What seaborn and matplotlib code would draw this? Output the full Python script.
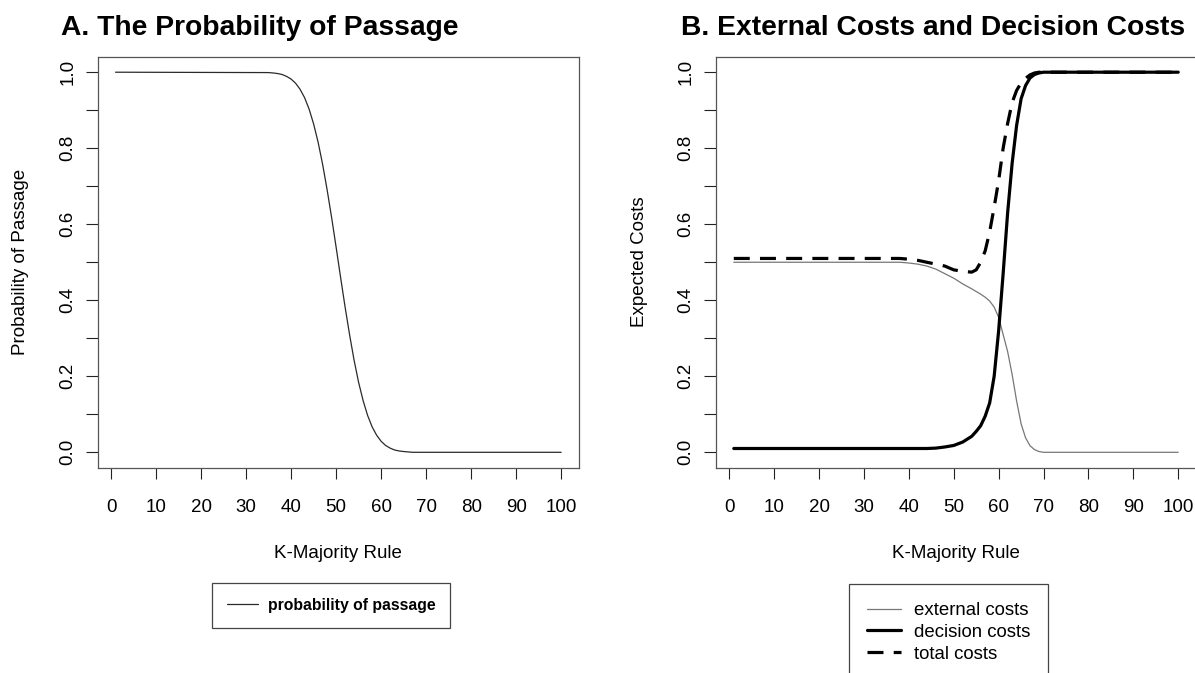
import numpy as np
import pandas as pd
import matplotlib
matplotlib.use("Agg")
import matplotlib.pyplot as plt
import seaborn as sns

# --- data ---
# panel A: probability of passage against the k-majority rule
k_pass = [1, 35, 36, 37, 38, 39, 40, 41, 42, 43, 44, 45, 46, 47, 48, 49, 50,
          51, 52, 53, 54, 55, 56, 57, 58, 59, 60, 61, 62, 63, 64, 65, 66, 67, 100]
p_pass = [1.0, 0.999, 0.998, 0.9965, 0.994, 0.989, 0.982, 0.971, 0.955, 0.933,
          0.903, 0.864, 0.816, 0.758, 0.691, 0.618, 0.540, 0.460, 0.382, 0.309,
          0.242, 0.184, 0.136, 0.097, 0.067, 0.045, 0.029, 0.018, 0.011, 0.006,
          0.0035, 0.002, 0.001, 0.0, 0.0]

# panel B: expected costs
k_cost = [1, 38, 40, 42, 44, 46, 48, 50, 52, 54, 55, 56, 57, 58, 59, 60,
          61, 62, 63, 64, 65, 66, 67, 68, 69, 70, 100]
external_costs = [0.50, 0.50, 0.498, 0.495, 0.49, 0.482, 0.47, 0.458, 0.443,
                  0.43, 0.423, 0.416, 0.408, 0.398, 0.382, 0.355, 0.31, 0.265,
                  0.205, 0.135, 0.075, 0.038, 0.017, 0.007, 0.002, 0.0, 0.0]
decision_costs = [0.01, 0.01, 0.01, 0.01, 0.01, 0.011, 0.014, 0.018, 0.027,
                  0.042, 0.055, 0.07, 0.095, 0.13, 0.20, 0.32, 0.47, 0.63,
                  0.76, 0.86, 0.93, 0.965, 0.985, 0.994, 0.998, 1.0, 1.0]
total_costs = [0.51, 0.51, 0.508, 0.505, 0.50, 0.495, 0.49, 0.48, 0.476,
               0.474, 0.48, 0.50, 0.53, 0.58, 0.645, 0.715, 0.80, 0.865,
               0.92, 0.952, 0.972, 0.984, 0.993, 0.998, 1.0, 1.0, 1.0]

x_ticks = [0, 10, 20, 30, 40, 50, 60, 70, 80, 90, 100]
x_ticklabels = ["0", "10", "20", "30", "40", "50", "60", "70", "80", "90", "100"]
y_ticks = [0.0, 0.1, 0.2, 0.3, 0.4, 0.5, 0.6, 0.7, 0.8, 0.9, 1.0]
y_ticklabels = ["0.0", "", "0.2", "", "0.4", "", "0.6", "", "0.8", "", "1.0"]

W, H = 1195, 673


def px(x):
    return x / W


def py(y):
    return 1 - y / H


def style_axes(ax):
    ax.set_xlim(-2.96, 103.96)
    ax.set_ylim(-0.04, 1.04)
    ax.set_xticks(x_ticks)
    ax.set_xticklabels(x_ticklabels)
    ax.set_yticks(y_ticks)
    ax.set_yticklabels(y_ticklabels, rotation=90, va="center")
    ax.tick_params(axis="x", length=8, width=0.8, color="#222222", pad=15,
                   labelsize=13.5, labelcolor="black", direction="out",
                   bottom=True)
    ax.tick_params(axis="y", length=8.5, width=0.8, color="#222222", pad=7,
                   labelsize=13.5, labelcolor="black", direction="out",
                   left=True)
    for sp in ax.spines.values():
        sp.set_visible(True)
        sp.set_color("#555555")
        sp.set_linewidth(0.9)
    ax.set_xlabel("")
    ax.set_ylabel("")
    if ax.get_legend() is not None:
        ax.get_legend().remove()


def main():
    sns.set_style("white")
    plt.rcParams["font.family"] = ["Liberation Sans", "DejaVu Sans"]
    plt.rcParams["text.color"] = "black"
    plt.rcParams["axes.labelcolor"] = "black"

    fig = plt.figure(figsize=(W / 100, H / 100), dpi=100)
    ax_top, ax_bot = 57, 467.5
    ax1 = fig.add_axes([px(97.7), py(ax_bot), px(579 - 97.7), (ax_bot - ax_top) / H])
    ax2 = fig.add_axes([px(716), py(ax_bot), px(480), (ax_bot - ax_top) / H])

    # A. probability of passage
    df_a = pd.DataFrame({"k": k_pass, "p": p_pass})
    sns.lineplot(data=df_a, x="k", y="p", ax=ax1, color="#2a2a2a", lw=0.9,
                 label="probability of passage")
    style_axes(ax1)

    # B. costs
    df_b = pd.DataFrame({"k": k_cost, "ext": external_costs,
                         "dec": decision_costs, "tot": total_costs})
    sns.lineplot(data=df_b, x="k", y="ext", ax=ax2, color="#777777", lw=0.9,
                 label="external costs")
    sns.lineplot(data=df_b, x="k", y="dec", ax=ax2, color="black", lw=2.3,
                 label="decision costs")
    sns.lineplot(data=df_b, x="k", y="tot", ax=ax2, color="black", lw=2.3,
                 ls=(0, (5, 3.2)), label="total costs")
    style_axes(ax2)

    # titles and axis labels
    fig.text(px(61), py(35), "A. The Probability of Passage", fontsize=20.3,
             fontweight="bold", ha="left", va="baseline")
    fig.text(px(681), py(35), "B. External Costs and Decision Costs",
             fontsize=20.3, fontweight="bold", ha="left", va="baseline")
    fig.text(px(338), py(553), "K-Majority Rule", fontsize=13.5,
             ha="center", va="center")
    fig.text(px(956), py(553), "K-Majority Rule", fontsize=13.5,
             ha="center", va="center")
    fig.text(px(21), py(262), "Probability of Passage", fontsize=13.5,
             rotation=90, ha="center", va="center")
    fig.text(px(639), py(262), "Expected Costs", fontsize=13.5,
             rotation=90, ha="center", va="center")

    # legends below the panels
    h1, l1 = ax1.get_legend_handles_labels()
    leg1 = fig.legend(h1, l1, loc="upper left",
                      bbox_to_anchor=(px(212), py(583)),
                      prop={"size": 11.3, "weight": "bold"},
                      frameon=True, fancybox=False, framealpha=1,
                      edgecolor="#444444", borderpad=0.95, handlelength=2.0,
                      handletextpad=0.6, borderaxespad=0)
    leg1.get_frame().set_linewidth(0.9)

    h2, l2 = ax2.get_legend_handles_labels()
    leg2 = fig.legend(h2, l2, loc="upper left",
                      bbox_to_anchor=(px(849), py(584)),
                      prop={"size": 13.4}, frameon=True, fancybox=False,
                      framealpha=1, edgecolor="#444444", borderpad=0.98,
                      handlelength=1.8, handletextpad=0.7, labelspacing=0.25,
                      borderaxespad=0)
    leg2.get_frame().set_linewidth(0.9)

    fig.savefig("out.png", dpi=100)
    plt.close(fig)


if __name__ == "__main__":
    main()
